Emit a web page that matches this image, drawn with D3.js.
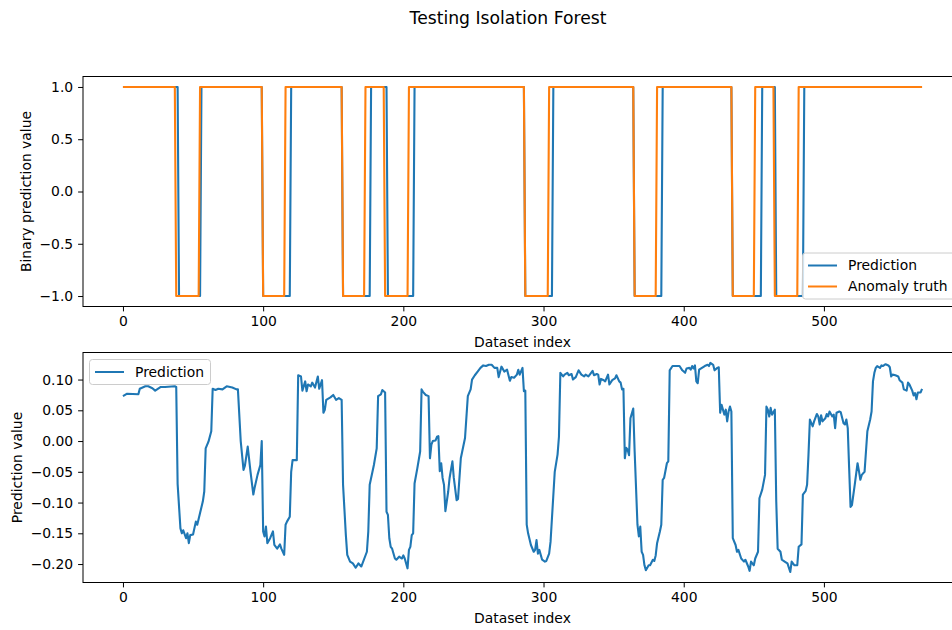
<!DOCTYPE html>
<html>
<head>
<meta charset="utf-8">
<script src="https://cdn.jsdelivr.net/npm/d3@7"></script>
<style>
  body { margin: 0; background: #fff; }
  svg { display: block; font-family: "DejaVu Sans", sans-serif; }
</style>
</head>
<body>
<div id="chart"></div>
<script>
// --- data ---
const lastIndex = 570;

// index ranges (inclusive) where the value is -1
const predictionAnomalies = [[40, 55], [100, 119], [157, 176], [189, 207], [287, 306], [365, 384], [435, 455], [466, 485]];
const truthAnomalies = [[38, 54], [100, 115], [157, 172], [187, 203], [287, 303], [365, 380], [435, 450], [465, 481]];

// continuous prediction score (bottom panel)
const scoreIndex = [
  0, 3, 11, 12, 16, 18, 21, 23, 27, 30, 37, 38, 39, 41, 42, 43, 45, 46, 47, 48,
  50, 52, 53, 55, 57, 58, 59, 61, 63, 64, 66, 68, 71, 74, 78, 81, 82, 84, 86, 87,
  89, 91, 93, 94, 96, 98, 99, 100, 101, 102, 103, 105, 107, 108, 110, 112, 113, 115, 116, 117,
  119, 120, 121, 124, 125, 127, 128, 130, 131, 132, 134, 135, 137, 139, 140, 142, 143, 144, 145, 148,
  150, 152, 154, 156, 157, 159, 160, 162, 164, 166, 168, 170, 174, 175, 176, 179, 181, 182, 184, 185,
  187, 188, 189, 190, 191, 192, 194, 195, 197, 199, 200, 201, 203, 204, 205, 206, 207, 208, 210, 212,
  213, 214, 216, 218, 219, 220, 221, 223, 224, 225, 226, 227, 228, 229, 230, 232, 233, 235, 236, 238,
  239, 241, 242, 244, 246, 248, 249, 251, 253, 255, 257, 259, 261, 263, 265, 267, 268, 270, 272, 274,
  276, 277, 279, 281, 282, 283, 285, 286, 287, 288, 289, 291, 293, 294, 295, 296, 297, 299, 301, 302,
  304, 305, 306, 308, 310, 311, 312, 314, 315, 317, 318, 320, 321, 323, 325, 327, 329, 330, 332, 333,
  335, 336, 338, 339, 340, 341, 343, 344, 346, 347, 349, 351, 352, 354, 355, 356, 357, 358, 359, 360,
  361, 362, 364, 365, 367, 368, 369, 370, 371, 372, 373, 375, 376, 378, 379, 380, 381, 383, 384, 385,
  386, 388, 389, 390, 392, 395, 397, 399, 401, 402, 404, 405, 406, 407, 408, 409, 410, 411, 413, 415,
  417, 418, 419, 421, 422, 424, 425, 426, 427, 429, 430, 431, 432, 433, 434, 435, 437, 438, 439, 441,
  443, 444, 446, 447, 448, 450, 451, 453, 454, 456, 458, 459, 460, 461, 462, 463, 465, 466, 467, 469,
  470, 472, 474, 476, 477, 479, 481, 482, 484, 485, 487, 488, 489, 490, 492, 493, 495, 496, 497, 498,
  499, 501, 502, 503, 504, 506, 507, 508, 509, 511, 512, 514, 515, 516, 517, 518, 519, 520, 522, 524,
  525, 526, 527, 529, 530, 531, 533, 534, 535, 536, 537, 538, 540, 541, 542, 544, 546, 547, 548, 549,
  551, 553, 554, 556, 557, 559, 560, 561, 563, 564, 565, 566, 567, 569, 570
];
const scoreValue = [
  0.073, 0.077, 0.076, 0.085, 0.089, 0.089, 0.086, 0.082, 0.088, 0.088, 0.089, 0.088, -0.070, -0.142, -0.150, -0.145, -0.158, -0.150, -0.166, -0.153,
  -0.152, -0.131, -0.136, -0.117, -0.098, -0.082, -0.012, -0.001, 0.016, 0.085, 0.083, 0.085, 0.084, 0.089, 0.087, 0.084, 0.084, 0.000, -0.047, -0.040,
  -0.009, -0.050, -0.087, -0.075, -0.055, -0.039, 0.000, -0.147, -0.155, -0.139, -0.166, -0.158, -0.147, -0.169, -0.175, -0.168, -0.175, -0.185, -0.136, -0.131,
  -0.123, -0.050, -0.031, -0.031, 0.107, 0.105, 0.082, 0.097, 0.081, 0.092, 0.089, 0.095, 0.087, 0.105, 0.085, 0.099, 0.046, 0.051, 0.067, 0.071,
  0.075, 0.067, 0.070, 0.067, -0.071, -0.153, -0.185, -0.196, -0.199, -0.206, -0.199, -0.204, -0.180, -0.147, -0.071, -0.039, -0.012, 0.073, 0.076, 0.083,
  0.079, -0.115, -0.120, -0.158, -0.172, -0.175, -0.191, -0.193, -0.188, -0.191, -0.186, -0.191, -0.207, -0.177, -0.172, -0.153, -0.150, -0.069, -0.044, -0.017,
  0.084, 0.080, 0.075, 0.073, -0.028, -0.006, 0.000, 0.001, 0.007, 0.008, -0.049, -0.036, -0.060, -0.071, -0.114, -0.082, -0.060, -0.033, -0.060, -0.096,
  -0.094, -0.028, -0.017, 0.005, 0.073, 0.084, 0.100, 0.107, 0.113, 0.119, 0.123, 0.122, 0.124, 0.124, 0.119, 0.119, 0.104, 0.121, 0.113, 0.116,
  0.098, 0.104, 0.103, 0.108, 0.116, 0.108, 0.119, 0.081, 0.082, -0.136, -0.150, -0.169, -0.180, -0.177, -0.161, -0.183, -0.177, -0.193, -0.196, -0.195,
  -0.183, -0.164, -0.126, -0.050, -0.022, 0.007, 0.111, 0.105, 0.108, 0.111, 0.107, 0.109, 0.100, 0.104, 0.115, 0.108, 0.105, 0.108, 0.105, 0.108,
  0.114, 0.107, 0.109, 0.108, 0.092, 0.101, 0.099, 0.097, 0.108, 0.092, 0.099, 0.102, 0.107, 0.097, 0.095, 0.084, 0.085, -0.028, -0.011, -0.014,
  -0.023, 0.037, 0.053, -0.017, -0.136, -0.155, -0.139, -0.180, -0.185, -0.202, -0.210, -0.202, -0.202, -0.193, -0.195, -0.186, -0.166, -0.147, -0.136, -0.063,
  -0.060, -0.036, -0.033, 0.115, 0.122, 0.122, 0.122, 0.115, 0.111, 0.118, 0.119, 0.116, 0.122, 0.118, 0.123, 0.097, 0.094, 0.116, 0.119, 0.122,
  0.124, 0.122, 0.127, 0.124, 0.115, 0.119, 0.120, 0.046, 0.059, 0.043, 0.051, 0.032, 0.048, 0.056, 0.048, -0.158, -0.169, -0.180, -0.177, -0.191,
  -0.196, -0.193, -0.204, -0.211, -0.196, -0.202, -0.191, -0.180, -0.093, -0.079, -0.055, 0.056, 0.051, 0.040, 0.054, 0.043, 0.051, -0.098, -0.175, -0.180,
  -0.193, -0.196, -0.199, -0.213, -0.196, -0.202, -0.202, -0.172, -0.168, -0.087, -0.081, -0.071, -0.022, 0.035, 0.024, 0.032, 0.044, 0.040, 0.027, 0.042,
  0.032, 0.037, 0.044, 0.040, 0.048, 0.040, 0.043, 0.021, 0.046, 0.048, 0.047, 0.029, 0.027, 0.035, 0.021, -0.044, -0.107, -0.104, -0.071, -0.036,
  -0.049, -0.063, -0.055, -0.050, -0.017, 0.016, 0.035, 0.048, 0.097, 0.111, 0.119, 0.122, 0.119, 0.123, 0.122, 0.125, 0.123, 0.120, 0.105, 0.108,
  0.107, 0.105, 0.099, 0.095, 0.084, 0.082, 0.095, 0.092, 0.082, 0.074, 0.078, 0.068, 0.079, 0.079, 0.085
];

const xTicks = [0, 100, 200, 300, 400, 500];
const topYTicks = [-1.0, -0.5, 0.0, 0.5, 1.0];
const bottomYTicks = [-0.20, -0.15, -0.10, -0.05, 0.00, 0.05, 0.10];

// --- layout ---
const width = 952, height = 630;
const left = 83, right = 962;          // right spine falls just outside the picture
const topPanel = { top: 76.5, bottom: 306.5 };
const bottomPanel = { top: 352.5, bottom: 582.5 };
const blue = "#1f77b4", orange = "#ff7f0e";
const fontSize = 13.9;

const svg = d3.select("#chart").append("svg")
    .attr("width", width)
    .attr("height", height);

// step vertices from the -1 ranges
function stepPoints(ranges) {
    const pts = [[0, 1]];
    ranges.forEach(([a, b]) => {
        pts.push([a - 1, 1], [a, -1], [b, -1], [b + 1, 1]);
    });
    pts.push([lastIndex, 1]);
    return pts;
}

const x = d3.scaleLinear().domain([-0.05 * lastIndex, 1.05 * lastIndex]).range([left, right]);

const minus = s => s.replace("-", "\u2212");

function drawAxes(g, y, panel, yTicks, yFmt, yLabel) {
    // x axis
    const xa = g.append("g").attr("transform", `translate(0,${panel.bottom})`)
        .call(d3.axisBottom(x).tickValues(xTicks).tickSize(4.9).tickPadding(4.9).tickFormat(d3.format("d")));
    // y axis
    const ya = g.append("g").attr("transform", `translate(${left},0)`)
        .call(d3.axisLeft(y).tickValues(yTicks).tickSize(4.9).tickPadding(4.9).tickFormat(d => minus(yFmt(d))));
    [xa, ya].forEach(a => {
        a.select(".domain").remove();
        a.selectAll("line").attr("stroke", "#000").attr("stroke-width", 1);
        a.selectAll("text").attr("fill", "#000").style("font-size", fontSize + "px")
            .style("font-family", "DejaVu Sans");
    });
    // spines
    g.append("rect")
        .attr("x", left).attr("y", panel.top)
        .attr("width", right - left).attr("height", panel.bottom - panel.top)
        .attr("fill", "none").attr("stroke", "#000").attr("stroke-width", 1);
    g.append("text")
        .attr("x", (left + right) / 2).attr("y", panel.bottom + 40)
        .attr("text-anchor", "middle")
        .style("font-size", fontSize + "px")
        .text("Dataset index");
    g.append("text")
        .attr("transform", `translate(${yLabel.x},${(panel.top + panel.bottom) / 2}) rotate(-90)`)
        .attr("text-anchor", "middle")
        .attr("dy", "0.35em")
        .style("font-size", fontSize + "px")
        .text(yLabel.text);
}

function drawLegend(g, bx, by, bw, entries) {
    const rowH = 21;
    const bh = entries.length * rowH + 4;
    g.append("rect")
        .attr("x", bx).attr("y", by).attr("width", bw).attr("height", bh)
        .attr("rx", 3)
        .attr("fill", "#fff").attr("fill-opacity", 0.8)
        .attr("stroke", "#ccc").attr("stroke-width", 1);
    entries.forEach((e, i) => {
        const cy = by + 12.5 + i * rowH;
        g.append("line")
            .attr("x1", bx + 5.5).attr("x2", bx + 34.5)
            .attr("y1", cy).attr("y2", cy)
            .attr("stroke", e.color).attr("stroke-width", 2);
        g.append("text")
            .attr("x", bx + 45.5).attr("y", cy)
            .attr("dy", "0.35em")
            .style("font-size", fontSize + "px")
            .text(e.label);
    });
}

// title (centred on the full, uncropped figure)
svg.append("text")
    .attr("x", 508).attr("y", 24)
    .attr("text-anchor", "middle")
    .style("font-size", "17.2px")
    .text("Testing Isolation Forest");

// --- top panel: binary prediction ---
const yTop = d3.scaleLinear().domain([-1.1, 1.1]).range([topPanel.bottom, topPanel.top]);
const gTop = svg.append("g");
const line = y => d3.line().x(d => x(d[0])).y(d => y(d[1]));

gTop.append("path")
    .datum(stepPoints(predictionAnomalies))
    .attr("d", line(yTop))
    .attr("fill", "none").attr("stroke", blue).attr("stroke-width", 2.1)
    .attr("stroke-linejoin", "round");
gTop.append("path")
    .datum(stepPoints(truthAnomalies))
    .attr("d", line(yTop))
    .attr("fill", "none").attr("stroke", orange).attr("stroke-width", 2.1)
    .attr("stroke-linejoin", "round");

drawAxes(gTop, yTop, topPanel, topYTicks, d3.format(".1f"), { x: 26, text: "Binary prediction value" });
drawLegend(gTop, 802.5, 253, 160, [
    { label: "Prediction", color: blue },
    { label: "Anomaly truth", color: orange }
]);

// --- bottom panel: prediction score ---
const scores = scoreIndex.map((d, i) => [d, scoreValue[i]]);
const sMin = d3.min(scoreValue), sMax = d3.max(scoreValue), pad = 0.05 * (sMax - sMin);
const yBot = d3.scaleLinear().domain([sMin - pad, sMax + pad]).range([bottomPanel.bottom, bottomPanel.top]);
const gBot = svg.append("g");

gBot.append("path")
    .datum(scores)
    .attr("d", line(yBot))
    .attr("fill", "none").attr("stroke", blue).attr("stroke-width", 2.1)
    .attr("stroke-linejoin", "round");

drawAxes(gBot, yBot, bottomPanel, bottomYTicks, d3.format(".2f"), { x: 17, text: "Prediction value" });
drawLegend(gBot, 89.5, 359.5, 121, [
    { label: "Prediction", color: blue }
]);
</script>
</body>
</html>
